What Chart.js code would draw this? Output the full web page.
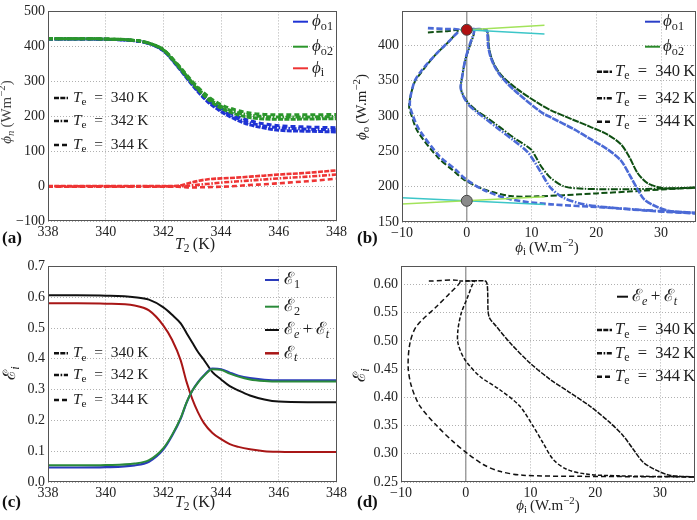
<!DOCTYPE html>
<html><head><meta charset="utf-8">
<script src="https://cdn.jsdelivr.net/npm/chart.js@4.4.1/dist/chart.umd.min.js"></script>
<style>
body{margin:0;background:#fff;}
#wrap{position:relative;width:697px;height:520px;overflow:hidden;background:#fff;}
canvas{position:absolute;}
.lab{position:absolute;font:bold 17px 'Liberation Serif','DejaVu Serif',serif;color:#111;}
</style></head><body>
<div id="wrap">
<canvas id="ca" width="350" height="255" style="left:0;top:0"></canvas>
<canvas id="cb" width="347" height="255" style="left:350px;top:0"></canvas>
<canvas id="cc" width="350" height="265" style="left:0;top:255px"></canvas>
<canvas id="cd" width="347" height="265" style="left:350px;top:255px"></canvas>
<div class="lab" style="left:2px;top:228px">(a)</div>
<div class="lab" style="left:357px;top:228px">(b)</div>
<div class="lab" style="left:2px;top:492px">(c)</div>
<div class="lab" style="left:357px;top:492px">(d)</div>
</div>
<script>
// ---------------- DATA ----------------
// Panel (a): fluxes vs T2
const T2a = [338,339,340,341,341.5,342,342.5,343,343.5,344,344.5,345,345.5,346,347,348];
const phiO1a_340 = [421,421,420,416,408,387,341,289,244,213,191,175,166,160,157,155];
const phiO1a_342 = [421,421,420,416,408,388,343,292,248,218,196,181,172,167,163,161];
const phiO1a_344 = [421,421,420,416,408,389,345,295,252,223,202,187,178,173,169,167];
const phiO2a_340 = [422,422,421,417,409,389,344,294,252,223,206,196,192,191,192,193];
const phiO2a_342 = [422,422,421,417,409,390,346,297,256,228,212,203,199,198,198,199];
const phiO2a_344 = [422,422,421,417,409,391,348,300,260,233,218,209,205,204,204,205];
const phiIa_340 = [0,0,0,0,0,0,1,11,19,22,24,27,30,33,38,45];
const phiIa_342 = [-1,-1,-1,-1,-1,-1,-1,2,6,10,13,16,19,22,27,33];
const phiIa_344 = [-2,-2,-2,-2,-2,-2,-2,-4,-3,-2,0,3,5,8,14,21];
const xTicksA = [338,340,342,344,346,348];
const yTicksA = [-100,0,100,200,300,400,500];

// Panel (b): phi_o vs phi_i
const b340_o2_x = [0,3.0,3.3,3.4,3.7,4.3,5.4,7.8,11.4,13,16.6,19,21.7,23.8,25.1,26.4,27.9,30,32,35.4];
const b340_o2_y = [421.5,421,415,400,386,372,357,338,316,308,294,285,274,260,242,219,205,198.5,197.5,199];
const b340_o1_x = [0,3.0,3.2,3.3,3.6,4.2,5.2,7.4,11.4,13,16.6,19,21.7,23.8,25.3,26.4,27.4,29,31.1,35.4];
const b340_o1_y = [422.5,422,415,400,386,372,357,336,306,298,281,268,253,237,214,196,182,173,166,163];
const b342_o2_x = [-0.8,1.1,0.5,-0.2,-0.7,-0.9,0.1,1.5,3.2,5,7.3,9.9,10.6,11.4,12.2,13,15,18.1,25,35.4];
const b342_o2_y = [421,421,400,380,356,338,320,308,297,285,269,253,243,230,220,212,200.5,197,196.5,198.5];
const b342_o1_x = [-0.8,1.1,0.5,-0.2,-0.7,-0.9,0.1,1.5,3.2,5,7.3,9.4,10.4,11.4,13,15,18.1,22,28,35.4];
const b342_o1_y = [423,423,402,381,356,338,318,306,294,281,265,249,236,221,198,184,175,170.5,166.5,162.5];
const b344_o2_x = [-6,-3,-1.4,-2.5,-5.1,-7,-8.1,-8.9,-8.5,-7.6,-4.5,-2,-0.4,2.7,6.8,10.9,15,20,25,30,35.4];
const b344_o2_y = [418.3,420,421,408,384,362,347,315,300,278.5,241.8,222,209.7,196,186.7,186.3,188,190.5,193,196,198.5];
const b344_o1_x = [-6,-3,-1.2,-2.3,-4.9,-7,-8.1,-8.8,-8.3,-7.3,-4.2,-1.7,-0.2,2.7,6.8,13,21.3,28,35.4];
const b344_o1_y = [424.3,423,422,410,386,364,348,318,300,280,243,224,211,195,182,175,170.6,166,162];
const tanTopGreen_x = [-1,12], tanTopGreen_y = [421.5,428.5];
const tanTopCyan_x = [-1,12], tanTopCyan_y = [422.5,416];
const tanBotCyan_x = [-10,12], tanBotCyan_y = [184.4,174.7];
const tanBotGreen_x = [-10,12], tanBotGreen_y = [175.3,185.6];
const dotTop = [0,422], dotBot = [0,180];
const xTicksB = [-10,0,10,20,30];
const yTicksB = [150,200,250,300,350,400];

// Panel (c): efficiencies vs T2
const T2c = [338,339,340,341,341.5,342,342.3,342.6,342.8,343,343.2,343.4,343.7,344,344.3,344.6,345,345.5,346,347,348];
const effSum = [0.606,0.606,0.605,0.600,0.592,0.567,0.543,0.515,0.484,0.453,0.422,0.397,0.357,0.333,0.311,0.297,0.281,0.268,0.261,0.259,0.259];
const effT = [0.580,0.580,0.579,0.573,0.557,0.508,0.462,0.395,0.326,0.270,0.226,0.192,0.159,0.139,0.123,0.114,0.106,0.100,0.098,0.097,0.097];
const eff1 = [0.047,0.047,0.048,0.054,0.066,0.106,0.150,0.206,0.257,0.296,0.324,0.346,0.368,0.366,0.355,0.345,0.337,0.332,0.330,0.330,0.330];
const eff2 = [0.054,0.054,0.055,0.060,0.071,0.110,0.153,0.208,0.258,0.296,0.323,0.344,0.366,0.364,0.352,0.342,0.333,0.328,0.326,0.326,0.326];
const xTicksC = [338,340,342,344,346,348];
const yTicksC = [0,0.1,0.2,0.3,0.4,0.5,0.6,0.7];

// Panel (d): efficiency vs phi_i
const d340_x = [0,3.0,3.3,3.4,3.45,3.7,4.7,6.8,9.9,13,16,19.1,22.2,24.3,25.8,27.4,29.4,31.5,35.4];
const d340_y = [0.606,0.606,0.600,0.580,0.552,0.540,0.526,0.497,0.461,0.432,0.409,0.385,0.356,0.332,0.309,0.285,0.271,0.262,0.259];
const d342_x = [-1.0,1.3,1.1,0.2,-0.7,-1.2,-1.2,-0.15,2.2,5.2,8.3,10.4,11.9,13.5,15.5,18.6,23.3,35.4];
const d342_y = [0.606,0.606,0.602,0.575,0.549,0.520,0.496,0.467,0.437,0.414,0.385,0.349,0.320,0.290,0.273,0.264,0.261,0.259];
const d344_x = [-5.7,-0.9,-2.5,-4.5,-7.6,-8.6,-8.9,-8.4,-7.1,-4.5,-2.0,0.1,2.7,5.2,8.8,18.1,35.4];
const d344_y = [0.606,0.606,0.584,0.561,0.526,0.497,0.455,0.420,0.385,0.350,0.322,0.302,0.281,0.269,0.262,0.260,0.259];
const xTicksD = [-10,0,10,20,30];
const yTicksD = [0.25,0.30,0.35,0.40,0.45,0.50,0.55,0.60];
const TeLabels = ['340','342','344'];

// ---------------- STYLE / HELPERS ----------------
const FF = "'Liberation Serif','DejaVu Serif',serif";
const DASH = {'340':[5,1.3], '342':[5,1.6,1.6,1.6], '344':[5,3]};
const DASHB = {'340':[7,1], '342':[7,1.5,1.5,1.5], '344':[6,2.5]};
const xy = (xs, ys) => xs.map((x,i)=>({x, y: ys[i]}));
const minus = v => (v<0 ? '\u2212'+Math.abs(v) : String(v));

function drawRich(ctx, x, y, parts, size, align, color){
  const segs = parts.map(p=>{
    const t=p[0], f=p[1]||'';
    const small = f.includes('s')||f.includes('p');
    const sz = small ? size*0.72 : size;
    const font = (f.includes('i')?'italic ':'') + sz.toFixed(1)+'px '+FF;
    ctx.font = font;
    return {t, font, w: ctx.measureText(t).width, dy: f.includes('s')? size*0.28 : (f.includes('p')? -size*0.33 : 0)};
  });
  const total = segs.reduce((a,s)=>a+s.w,0);
  let cx = align==='center' ? x-total/2 : x;
  ctx.fillStyle = color||'#222'; ctx.textBaseline='middle'; ctx.textAlign='left';
  segs.forEach(s=>{ctx.font=s.font; ctx.fillText(s.t,cx,y+s.dy); cx+=s.w;});
}
const teParts = te => [['T','i'],['e','s'],['\u2002=\u2002',''],[te,''],['\u2009K','']];

const richPlugin = {
  id:'rich',
  afterDraw(chart, args, opts){
    const ctx = chart.ctx, ca = chart.chartArea;
    ctx.save();
    ctx.setLineDash([]); ctx.strokeStyle='#555'; ctx.lineWidth=1;
    const L=Math.round(ca.left)+0.5, T=Math.round(ca.top)+0.5, R=Math.round(ca.right)-0.5, B=Math.round(ca.bottom)-0.5;
    ctx.strokeRect(L,T,R-L,B-T);
    (opts.items||[]).forEach(it=>{
      if(it.line){
        ctx.save(); ctx.beginPath(); ctx.strokeStyle=it.color; ctx.lineWidth=it.w||2;
        ctx.setLineDash(it.dash||[]); ctx.moveTo(it.line[0],it.line[2]); ctx.lineTo(it.line[1],it.line[2]); ctx.stroke(); ctx.restore();
      } else if(it.parts){
        if(it.rot){
          ctx.save(); ctx.translate(it.at[0],it.at[1]); ctx.rotate(-Math.PI/2);
          drawRich(ctx,0,0,it.parts,it.size,'center',it.color); ctx.restore();
        } else drawRich(ctx,it.at[0],it.at[1],it.parts,it.size,it.align,it.color);
      }
    });
    ctx.restore();
  }
};
Chart.register(richPlugin);

function scales(o){
  const tf = {family:FF,size:14};
  return {
    x:{type:'linear',min:o.xr[0],max:o.xr[1],
      afterBuildTicks:s=>{s.ticks=o.xt.map(v=>({value:v}));},
      afterFit:s=>{s.height=o.xH;},
      ticks:{font:tf,color:'#222',padding:3,maxRotation:0,autoSkip:false,callback:o.xf},
      grid:{color:'#b0b0b0',lineWidth:1,drawTicks:false},
      border:{display:false,dash:[1,2]}},
    y:{type:'linear',min:o.yr[0],max:o.yr[1],
      afterBuildTicks:s=>{s.ticks=o.yt.map(v=>({value:v}));},
      afterFit:s=>{s.width=o.yW;},
      ticks:{font:tf,color:'#222',padding:3,autoSkip:false,callback:o.yf},
      grid:{color:'#b0b0b0',lineWidth:1,drawTicks:false},
      border:{display:false,dash:[1,2]}}
  };
}
function baseOpts(pad, sc, items){
  return {responsive:false,animation:false,devicePixelRatio:1,events:[],
    layout:{autoPadding:false,padding:{top:pad[0],right:pad[1],bottom:0,left:0}},
    scales:sc,
    plugins:{legend:{display:false},tooltip:{enabled:false},rich:{items}}};
}
const ln = (data,color,dash,w,extra) => Object.assign({data,borderColor:color,backgroundColor:color,borderDash:dash||[],borderWidth:w,pointRadius:0,fill:false},extra||{});

// ---------------- PANEL A ----------------
const CA = {blue:'#1f33d4', green:'#2b962b', red:'#ee3434'};
(function(){
  const o1=[phiO1a_340,phiO1a_342,phiO1a_344], o2=[phiO2a_340,phiO2a_342,phiO2a_344], pi=[phiIa_340,phiIa_342,phiIa_344];
  const ds=[];
  const m={cubicInterpolationMode:'monotone'};
  TeLabels.forEach((te,k)=>ds.push(ln(xy(T2a,o1[k]),CA.blue,DASH[te],3,m)));
  TeLabels.forEach((te,k)=>ds.push(ln(xy(T2a,o2[k]),CA.green,DASH[te],3,m)));
  TeLabels.forEach((te,k)=>ds.push(ln(xy(T2a,pi[k]),CA.red,DASH[te],2.6,m)));
  const items=[
    {line:[293,308,21.7],color:CA.blue,w:2},{parts:[['ϕ','i'],['o1','s']],at:[312,21.7],size:17},
    {line:[293,308,46.7],color:CA.green,w:2},{parts:[['ϕ','i'],['o2','s']],at:[312,46.7],size:17},
    {line:[293,308,68.3],color:CA.red,w:2},{parts:[['ϕ','i'],['i','s']],at:[312,68.3],size:17},
    {parts:[['T','i'],['2','s'],['\u2009(K)','']],at:[195,245],size:16,align:'center'},
    {parts:[['ϕ','i'],['n','si'],['\u2009(Wm',''],['\u22122','p'],[')','']],at:[7,112],size:15,rot:true,color:'#444'}
  ];
  [98,121,145].forEach((y,k)=>{items.push({line:[54,68,y],color:'#111',dash:DASH[TeLabels[k]],w:2.5});
    items.push({parts:teParts(TeLabels[k]),at:[73,y],size:15.5});});
  new Chart(document.getElementById('ca'),{type:'line',data:{datasets:ds.reverse()},
    options:baseOpts([5,7],scales({xr:[338,348],xt:xTicksA,xH:34,xf:v=>String(v),yr:[-100,500],yt:yTicksA,yW:48,yf:minus}),items)});
})();

// ---------------- PANEL B ----------------
const CB = {blue:'#4b6ad6', green:'#0f4f12', lime:'#a2e35a', cyan:'#3cc6c8'};
(function(){
  const ds=[];
  const t={tension:0.3};
  ds.push(ln([{x:0,y:150},{x:0,y:448}],'#9a9a9a',[],1.4));
  [[b340_o2_x,b340_o2_y,'340'],[b342_o2_x,b342_o2_y,'342'],[b344_o2_x,b344_o2_y,'344']].forEach(c=>ds.push(ln(xy(c[0],c[1]),CB.green,DASHB[c[2]],2,t)));
  [[b340_o1_x,b340_o1_y,'340'],[b342_o1_x,b342_o1_y,'342'],[b344_o1_x,b344_o1_y,'344']].forEach(c=>ds.push(ln(xy(c[0],c[1]),CB.blue,DASHB[c[2]],2.6,t)));
  ds.push(ln(xy(tanTopGreen_x,tanTopGreen_y),CB.lime,[],1.5));
  ds.push(ln(xy(tanTopCyan_x,tanTopCyan_y),CB.cyan,[],1.5));
  ds.push(ln(xy(tanBotCyan_x,tanBotCyan_y),CB.cyan,[],1.5));
  ds.push(ln(xy(tanBotGreen_x,tanBotGreen_y),CB.lime,[],1.5));
  ds.push({data:[{x:dotTop[0],y:dotTop[1]}],showLine:false,pointRadius:5.5,backgroundColor:'#b01212',borderColor:'#444',borderWidth:1});
  ds.push({data:[{x:dotBot[0],y:dotBot[1]}],showLine:false,pointRadius:5.5,backgroundColor:'#8a8a8a',borderColor:'#444',borderWidth:1});
  const items=[
    {line:[295,310,21.7],color:'#2a3fc8',w:2},{parts:[['ϕ','i'],['o1','s']],at:[313,21.7],size:17},
    {line:[295,310,46.7],color:'#2a8a2a',w:2},{parts:[['ϕ','i'],['o2','s']],at:[313,46.7],size:17},
    {parts:[['ϕ','i'],['i','s'],['\u2009(W.m',''],['\u22122','p'],[')','']],at:[197,248],size:15,align:'center'},
    {parts:[['ϕ','i'],['o','s'],['\u2009(W.m',''],['\u22122','p'],[')','']],at:[12,107],size:15,rot:true}
  ];
  [71.7,98.3,121.7].forEach((y,k)=>{items.push({line:[247,262,y],color:'#111',dash:DASH[TeLabels[k]],w:2.5});
    items.push({parts:teParts(TeLabels[k]),at:[265,y],size:16.5});});
  new Chart(document.getElementById('cb'),{type:'line',data:{datasets:ds.reverse()},
    options:baseOpts([5,1],scales({xr:[-10,35.4],xt:xTicksB,xH:33,xf:minus,yr:[150,448],yt:yTicksB,yW:52,yf:v=>String(v)}),items)});
})();

// ---------------- PANEL C ----------------
const CC = {blue:'#2b3bbb', green:'#2a8a3a', black:'#111111', red:'#a81616'};
(function(){
  const m={cubicInterpolationMode:'monotone'};
  const ds=[
    ln(xy(T2c,effT),CC.red,[],2,m),
    ln(xy(T2c,effSum),CC.black,[],2,m),
    ln(xy(T2c,eff1),CC.blue,[],2.2,m),
    ln(xy(T2c,eff2),CC.green,[],2,m)
  ];
  const items=[
    {line:[265,279,25],color:CC.blue,w:2},{parts:[['ℰ',''],['1','s']],at:[284,25],size:17},
    {line:[265,279,51.7],color:CC.green,w:2},{parts:[['ℰ',''],['2','s']],at:[284,51.7],size:17},
    {line:[265,279,75],color:CC.black,w:2},{parts:[['ℰ',''],['e','si'],['\u2009+\u2009',''],['ℰ',''],['t','si']],at:[284,75],size:17},
    {line:[265,279,98.3],color:CC.red,w:2.5},{parts:[['ℰ',''],['t','si']],at:[284,98.3],size:17},
    {parts:[['T','i'],['2','s'],['\u2009(K)','']],at:[195,248],size:16,align:'center'},
    {parts:[['ℰ',''],['i','si']],at:[11,118],size:17,rot:true}
  ];
  [98.3,120,145].forEach((y,k)=>{items.push({line:[54,68,y],color:'#111',dash:DASH[TeLabels[k]],w:2.5});
    items.push({parts:teParts(TeLabels[k]),at:[73,y],size:15.5});});
  new Chart(document.getElementById('cc'),{type:'line',data:{datasets:ds.reverse()},
    options:baseOpts([10,7],scales({xr:[338,348],xt:xTicksC,xH:38,xf:v=>String(v),yr:[0,0.7],yt:yTicksC,yW:48,yf:v=>v.toFixed(1)}),items)});
})();

// ---------------- PANEL D ----------------
(function(){
  const t={tension:0.3};
  const ds=[
    ln([{x:0,y:0.25},{x:0,y:0.632}],'#9a9a9a',[],1.4),
    ln(xy(d344_x,d344_y),'#111',DASH['344'],1.5,t),
    ln(xy(d342_x,d342_y),'#111',[4,2],1.5,t),
    ln(xy(d340_x,d340_y),'#111',DASH['340'],1.5,t)
  ];
  const items=[
    {line:[267,278,41.7],color:'#111',w:2},{parts:[['ℰ',''],['e','si'],['\u2009+\u2009',''],['ℰ',''],['t','si']],at:[282,41.7],size:17},
    {parts:[['ϕ','i'],['i','s'],['\u2009(W.m',''],['\u22122','p'],[')','']],at:[198,251],size:15,align:'center'},
    {parts:[['ℰ',''],['i','si']],at:[11,120],size:17,rot:true}
  ];
  [75,98.3,121.7].forEach((y,k)=>{items.push({line:[247,262,y],color:'#111',dash:DASH[TeLabels[k]],w:2.5});
    items.push({parts:teParts(TeLabels[k]),at:[265,y],size:16.5});});
  new Chart(document.getElementById('cd'),{type:'line',data:{datasets:ds.reverse()},
    options:baseOpts([10,2],scales({xr:[-10,35.4],xt:xTicksD,xH:38,xf:minus,yr:[0.25,0.632],yt:yTicksD,yW:51,yf:v=>v.toFixed(2)}),items)});
})();
</script>
</body></html>
